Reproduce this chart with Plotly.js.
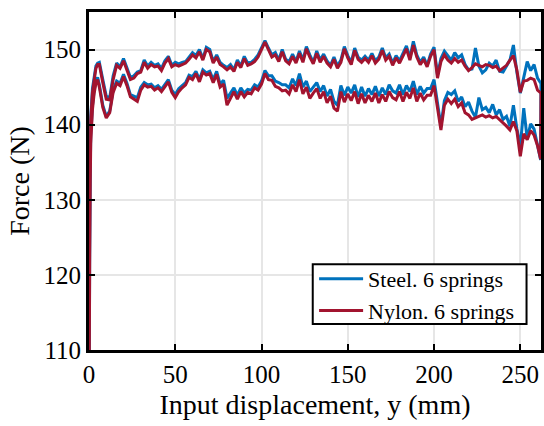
<!DOCTYPE html>
<html>
<head>
<meta charset="utf-8">
<script src="https://cdn.plot.ly/plotly-3.0.1.min.js"></script>
<style>html,body{margin:0;padding:0;background:#fff;}#chart{width:544px;height:426px;}</style>
</head>
<body>
<div id="chart"></div>
<script>
// Loading branch displacement (mm)
var xUp = [0,0.3,0.6,1,2,3,4,5,
  6,8,10,12,14,16,18,20,22,24,26,28,30,32,34,36,38,40,42,44,46,48,50,52,54,56,58,60,
  62,64,66,68,70,72,74,76,78,80,82,84,86,88,90,92,94,96,98,100,102,104,106,108,110,
  112,114,116,118,120,122,124,126,128,130,132,134,136,138,140,142,144,146,148,150,
  152,154,156,158,160,162,164,166,168,170,172,174,176,178,180,182,184,186,188,190,
  192,194,196,198,200,202,204,206,208,210,212,214,216,218,220,222,224,226,228,230,
  232,234,236,238,240,242,244,246,248,250,252,254,256,258,260,262];
// Unloading branch displacement (mm)
var xDown = [0.2,0.5,1,2,3,4,5,
  6,8,10,12,14,16,18,20,22,24,26,28,30,32,34,36,38,40,42,44,46,48,50,52,54,56,58,60,
  62,64,66,68,70,72,74,76,78,80,82,84,86,88,90,92,94,96,98,100,102,104,106,108,110,
  112,114,116,118,120,122,124,126,128,130,132,134,136,138,140,142,144,146,148,150,
  152,154,156,158,160,162,164,166,168,170,172,174,176,178,180,182,184,186,188,190,
  192,194,196,198,200,202,204,206,208,210,212,214,216,218,220,222,224,226,228,230,
  232,234,236,238,240,242,244,246,248,250,252,254,256,258,260,261.8];

var steelUp = [110,126,137,141,144.8,146.6,147.8,148.2,
  148.3,146.0,143.8,143.6,146.5,148.2,147.7,148.8,147.5,146.3,146.5,147.0,147.2,148.6,147.8,148.3,147.9,148.1,147.5,148.5,149.1,147.9,148.3,148.1,148.3,148.4,149.0,149.6,
  149.2,150.0,148.8,150.3,150.0,148.4,149.3,148.3,147.9,147.6,148.0,147.3,148.6,147.8,149.1,148.2,148.3,148.7,149.3,150.2,151.2,150.2,149.3,149.6,148.6,
  150.0,148.7,148.4,149.4,148.4,149.8,148.6,150.4,149.3,148.3,149.8,148.6,149.4,148.5,147.9,149.0,147.8,148.6,150.4,149.2,
  148.3,150.2,149.0,148.6,149.1,148.6,149.5,148.5,149.0,150.2,148.9,149.4,148.2,149.2,148.5,149.5,150.5,148.9,151.1,149.3,
  148.3,149.0,147.9,149.4,150.3,146.6,148.8,149.8,149.2,148.6,149.6,148.9,149.3,148.0,147.3,147.4,150.2,147.8,146.9,147.3,
  148.2,147.8,148.6,147.1,147.0,147.8,148.6,150.6,147.0,144.2,146.3,148.4,147.2,148.0,146.2,145.5];

var nylonUp = [110,124,135.5,140.5,144.3,146.2,147.5,148.0,
  148.0,145.6,143.4,143.3,146.0,147.9,147.5,148.5,147.2,146.0,146.2,146.8,147.0,148.3,147.5,148.0,147.7,147.8,147.2,148.2,148.8,147.7,148.0,147.8,148.0,148.2,148.7,149.3,
  148.9,149.7,148.6,150.0,149.7,148.2,149.0,148.0,147.7,147.3,147.7,147.1,148.3,147.6,148.8,147.9,148.1,148.4,149.0,150.0,151.0,150.0,149.0,149.3,148.4,
  149.7,148.5,148.1,149.1,148.2,149.5,148.3,150.1,149.0,148.1,149.5,148.3,149.1,148.2,147.7,148.7,147.5,148.3,150.1,148.9,
  148.0,149.9,148.7,148.3,148.8,148.3,149.2,148.2,148.7,149.9,148.6,149.1,147.9,148.9,148.2,149.2,150.1,148.6,150.6,149.0,
  148.0,148.7,147.7,149.1,150.0,146.2,148.4,149.3,148.6,148.2,148.8,148.3,148.6,147.8,147.2,147.6,148.1,147.9,147.7,148.0,
  147.9,147.6,147.8,147.2,147.5,147.9,148.6,149.2,147.3,144.3,145.8,145.9,146.2,146.0,144.6,144.2];

var steelDown = [110,130,138.5,142.5,144.6,145.8,146.3,
  145.3,142.6,141.1,141.8,144.6,145.8,145.5,146.7,145.5,144.0,143.8,143.6,145.0,145.6,145.3,145.4,144.9,145.2,144.7,145.4,146.0,144.6,144.0,144.8,145.2,145.6,146.6,146.4,
  147.1,146.0,147.3,146.9,147.1,146.0,147.1,145.4,145.9,143.5,144.2,144.9,143.9,144.9,144.2,144.7,144.6,145.3,145.0,145.8,147.2,146.5,146.5,145.8,145.6,
  145.3,145.3,144.9,146.1,145.2,146.8,145.0,145.8,144.4,145.0,145.6,144.4,145.2,143.8,144.7,143.1,142.6,145.2,143.9,145.0,
  144.2,145.3,143.7,145.0,143.8,144.8,144.0,145.1,143.8,144.9,144.0,145.3,144.5,144.2,145.3,144.0,145.2,144.4,145.8,144.0,
  145.1,144.2,144.8,144.8,146.0,143.0,139.8,143.2,144.3,144.0,144.5,143.1,143.7,142.4,143.0,141.8,141.0,143.6,142.0,142.3,
  141.6,142.7,141.3,142.0,140.7,141.1,139.8,142.6,139.5,137.1,142.2,138.1,140.1,139.4,137.2,135.3];

var nylonDown = [110,128,137.5,142.0,144.2,145.5,146.0,
  145.0,142.3,140.9,141.6,144.3,145.5,145.2,146.4,145.2,143.7,143.4,143.1,144.6,145.3,145.0,145.1,144.6,144.9,144.4,145.1,145.7,144.3,143.6,144.4,144.9,145.3,146.3,146.0,
  146.8,145.7,147.0,146.6,146.8,145.6,146.7,145.0,145.4,142.6,143.5,144.4,143.4,144.4,143.7,144.3,144.1,144.9,144.6,145.4,146.8,146.0,145.9,145.1,144.9,
  144.5,144.6,144.1,145.3,144.4,146.0,144.1,145.0,143.5,144.2,144.8,143.5,144.4,142.9,143.8,142.2,141.8,144.4,143.0,144.1,
  143.2,144.4,142.8,144.1,142.9,143.9,143.1,144.2,142.9,144.0,143.1,144.4,143.6,143.3,144.4,143.1,144.3,143.5,144.9,143.1,
  144.2,143.3,143.9,143.9,145.2,142.2,139.3,142.6,143.4,142.8,143.4,142.4,142.9,141.6,141.3,140.7,140.9,141.1,141.3,141.0,
  141.2,140.9,141.1,140.7,140.2,139.8,139.3,140.4,139.2,135.8,138.8,138.0,139.2,138.6,137.2,135.4];

var seriesNames = ['Steel. 6 springs', 'Nylon. 6 springs'];
var seriesColors = ['#0072BD', '#A2142F'];

function loop(up, down) {
  return {
    x: xUp.concat(xDown.slice().reverse()),
    y: up.concat(down.slice().reverse())
  };
}
var s = loop(steelUp, steelDown);
var n = loop(nylonUp, nylonDown);

var serif = 'Liberation Serif, Times New Roman, serif';
var traces = [
  {x: s.x, y: s.y, type: 'scatter', mode: 'lines', name: seriesNames[0],
   line: {color: seriesColors[0], width: 3}},
  {x: n.x, y: n.y, type: 'scatter', mode: 'lines', name: seriesNames[1],
   line: {color: seriesColors[1], width: 3}}
];

var axisCommon = {
  showline: true, linecolor: '#000', linewidth: 3, mirror: 'ticks',
  ticks: 'inside', ticklen: 6, tickwidth: 2, tickcolor: '#000',
  showgrid: true, gridcolor: '#e6e6e6', gridwidth: 2, zeroline: false,
  tickfont: {family: serif, size: 25, color: '#000'}
};

var layout = {
  width: 544, height: 426,
  margin: {l: 89, r: 3, t: 12, b: 76},
  paper_bgcolor: '#fff', plot_bgcolor: '#fff',
  font: {family: serif, color: '#000'},
  showlegend: true,
  legend: {
    x: 0.498, y: 0.272, xanchor: 'left', yanchor: 'top',
    bgcolor: 'rgba(0,0,0,0)', borderwidth: 0,
    font: {family: serif, size: 22, color: '#000'},
    tracegroupgap: 0, itemwidth: 44
  },
  shapes: [{
    type: 'rect', xref: 'paper', yref: 'paper', layer: 'above',
    x0: 0.495, x1: 0.968, y0: 0.077, y1: 0.254,
    fillcolor: '#fff', line: {color: '#000', width: 2}
  }],
  xaxis: Object.assign({}, axisCommon, {
    range: [0, 262], tickvals: [0, 50, 100, 150, 200, 250],
    title: {text: 'Input displacement, y (mm)', font: {family: serif, size: 28, color: '#000'}, standoff: 8}
  }),
  yaxis: Object.assign({}, axisCommon, {
    range: [110, 155], tickvals: [110, 120, 130, 140, 150],
    title: {text: 'Force (N)', font: {family: serif, size: 28, color: '#000'}, standoff: 6}
  })
};

Plotly.newPlot('chart', traces, layout, {displayModeBar: false, staticPlot: true});
</script>
</body>
</html>
